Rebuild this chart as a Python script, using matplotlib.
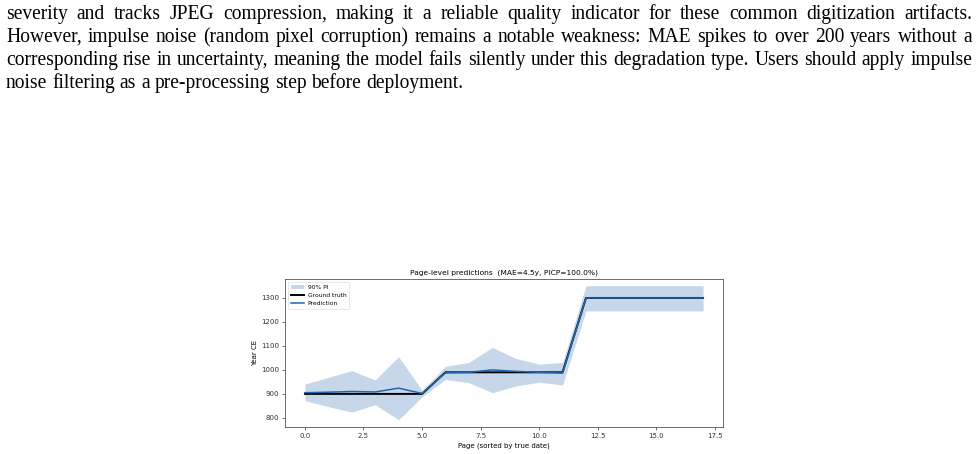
import matplotlib
matplotlib.use("Agg")
import matplotlib.pyplot as plt
import numpy as np

# ---------------- data ----------------
pages = list(range(18))
ground_truth = [900, 900, 900, 900, 900, 900,
                990, 990, 990, 990, 990, 990,
                1300, 1300, 1300, 1300, 1300, 1300]
prediction = [905, 907, 910, 908, 924, 902,
              988, 990, 1000, 994, 990, 987,
              1300, 1300, 1300, 1300, 1300, 1300]
pi_upper = [941, 969, 997, 958, 1055, 915,
            1015, 1031, 1094, 1048, 1024, 1031,
            1351, 1351, 1351, 1351, 1351, 1351]
pi_lower = [872, 847, 824, 855, 792, 888,
            960, 947, 905, 933, 949, 937,
            1246, 1246, 1246, 1246, 1246, 1246]

title = "Page-level predictions  (MAE=4.5y, PICP=100.0%)"
xlabel = "Page (sorted by true date)"
ylabel = "Year CE"
legend_labels = ["90% PI", "Ground truth", "Prediction"]

paragraph_lines = [
    "severity and tracks JPEG compression, making it a reliable quality indicator for these common digitization artifacts.",
    "However, impulse noise (random pixel corruption) remains a notable weakness: MAE spikes to over 200 years without a",
    "corresponding rise in uncertainty, meaning the model fails silently under this degradation type. Users should apply impulse",
    "noise filtering as a pre-processing step before deployment.",
]

# ---------------- figure ----------------
W, H = 980, 454
fig = plt.figure(figsize=(W / 100, H / 100), dpi=100)
fig.patch.set_facecolor("white")
renderer = fig.canvas.get_renderer()
FAM = "Liberation Serif"
left_px, right_px = 6, 972


def text_width(s, size):
    t = fig.text(0, 0, s, fontsize=size, family=FAM)
    w = t.get_window_extent(renderer).width
    t.remove()
    return w


# choose the font size so that the densest line fills the text width
ref_w = text_width(paragraph_lines[2], 10)
fs = 10 * (right_px - left_px) / ref_w * 0.995

baselines = [19, 42, 65, 88]
space_w = text_width("a b", fs) - text_width("ab", fs)
for li, (line, by) in enumerate(zip(paragraph_lines, baselines)):
    words = line.split(" ")
    ytxt = 1 - by / H
    texts = [fig.text(0, ytxt, w, fontsize=fs, family=FAM, va="baseline",
                      ha="left", color="black") for w in words]
    widths = [t.get_window_extent(renderer).width for t in texts]
    if li == len(paragraph_lines) - 1:
        gap = space_w
    else:
        gap = (right_px - left_px - sum(widths)) / (len(words) - 1)
    x = left_px
    for t, w in zip(texts, widths):
        t.set_x(x / W)
        x += w + gap

# ---------------- chart ----------------
ax = fig.add_axes([285 / W, 1 - 427 / H, (723 - 285) / W, (427 - 279) / H])
ax.fill_between(pages, pi_lower, pi_upper, color="#2166ac", alpha=0.26,
                linewidth=0, label=legend_labels[0])
ax.plot(pages, ground_truth, color="black", lw=1.4, label=legend_labels[1])
ax.plot(pages, prediction, color="#2166ac", lw=1.1, label=legend_labels[2])

ax.set_xlim(-0.85, 17.85)
ax.set_ylim(762, 1379)
ax.set_xticks([0, 2.5, 5, 7.5, 10, 12.5, 15, 17.5])
ax.set_xticklabels(["0.0", "2.5", "5.0", "7.5", "10.0", "12.5", "15.0", "17.5"])
ax.set_yticks([800, 900, 1000, 1100, 1200, 1300])
ax.tick_params(labelsize=5, length=2.5, width=0.5, pad=2, colors="#333333")
for s in ax.spines.values():
    s.set_linewidth(0.6)
    s.set_color("#555555")
ax.set_title(title, fontsize=5.4, pad=3)
ax.set_xlabel(xlabel, fontsize=5, labelpad=2)
ax.set_ylabel(ylabel, fontsize=5, labelpad=2)
leg = ax.legend(loc="upper left", fontsize=4.3, frameon=True, handlelength=2.2,
                borderpad=0.5, labelspacing=0.5, handletextpad=0.6)
leg.get_frame().set_linewidth(0.4)

fig.savefig("out.png", dpi=100, facecolor="white")
